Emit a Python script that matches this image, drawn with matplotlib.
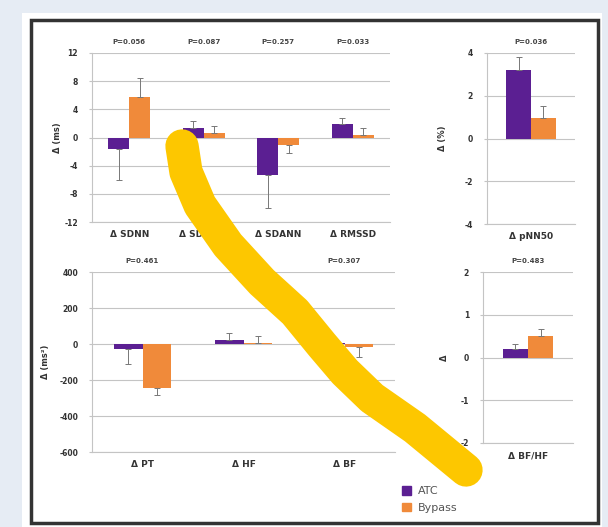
import matplotlib
matplotlib.use("Agg")
import matplotlib.pyplot as plt
from matplotlib.patches import Rectangle
from matplotlib.lines import Line2D
import numpy as np

plt.rcParams["axes.unicode_minus"] = False

# time domain (ms)
td_labels = ["Δ SDNN", "Δ SDNNIS", "Δ SDANN", "Δ RMSSD"]
td_p = ["P=0.056", "P=0.087", "P=0.257", "P=0.033"]
td_atc = [-1.6, 1.4, -5.3, 1.9]
td_atc_err = [4.5, 1.0, 4.7, 0.8]
td_byp = [5.7, 0.6, -1.0, 0.3]
td_byp_err = [2.7, 1.1, 1.2, 1.0]

# pNN50 (%)
pn_labels = ["Δ pNN50"]
pn_p = ["P=0.036"]
pn_atc = [3.2]
pn_atc_err = [0.6]
pn_byp = [0.95]
pn_byp_err = [0.55]

# frequency domain (ms2)
fd_labels = ["Δ PT", "Δ HF", "Δ BF"]
fd_p = ["P=0.461", "P=0.284", "P=0.307"]
fd_atc = [-28, 22, 5]
fd_atc_err = [82, 40, 30]
fd_byp = [-245, 3, -15]
fd_byp_err = [38, 40, 55]

# ratio
rt_labels = ["Δ BF/HF"]
rt_p = ["P=0.483"]
rt_atc = [0.21]
rt_atc_err = [0.11]
rt_byp = [0.5]
rt_byp_err = [0.17]

# scribble over the figure (pixel coords, y from top)
scrib_x = [182, 186, 200, 228, 262, 295, 322, 345, 372, 415, 466]
scrib_y = [146, 172, 205, 245, 282, 312, 345, 372, 398, 428, 470]

ATC = "#5b1f92"
BYP = "#f08a3a"
W, H = 608, 527

fig = plt.figure(figsize=(W / 100, H / 100), dpi=100)
fig.patch.set_facecolor("#e6ecf4")
fig.patches.append(Rectangle((22 / W, 0), 580 / W, 1 - 13 / H, transform=fig.transFigure,
                             facecolor="white", edgecolor="none", zorder=-5))
fig.patches.append(Rectangle((31 / W, 4 / H), 567 / W, 1 - 24 / H, transform=fig.transFigure,
                             facecolor="none", edgecolor="#333333", lw=2.5, zorder=-4))


def panel(rect, labels, pvals, atc, atc_err, byp, byp_err, ylim, step, ylabel, ylab_x):
    ax = fig.add_axes(rect)
    n = len(labels)
    x = np.arange(n)
    w = 0.28
    atc_e = [[e if v < 0 else 0 for v, e in zip(atc, atc_err)],
             [e if v >= 0 else 0 for v, e in zip(atc, atc_err)]]
    byp_e = [[e if v < 0 else 0 for v, e in zip(byp, byp_err)],
             [e if v >= 0 else 0 for v, e in zip(byp, byp_err)]]
    ax.bar(x - w / 2, atc, w, color=ATC, zorder=3,
           yerr=atc_e, ecolor="#777777", capsize=2, error_kw=dict(lw=0.7, capthick=0.7))
    ax.bar(x + w / 2, byp, w, color=BYP, zorder=3,
           yerr=byp_e, ecolor="#777777", capsize=2, error_kw=dict(lw=0.7, capthick=0.7))
    ax.set_xlim(-0.5, n - 0.5)
    ax.set_ylim(*ylim)
    ax.set_yticks(np.arange(ylim[0], ylim[1] + step / 2, step))
    ax.yaxis.grid(True, color="#c4c4c4", lw=0.8, zorder=0)
    ax.set_axisbelow(True)
    for s in ["top", "right"]:
        ax.spines[s].set_visible(False)
    for s in ["left", "bottom"]:
        ax.spines[s].set_color("#c4c4c4")
        ax.spines[s].set_linewidth(0.8)
    ax.set_xticks(x)
    ax.set_xticklabels(labels, fontsize=6.5, fontweight="bold", color="#333333")
    ax.tick_params(axis="x", length=0, pad=6)
    ax.tick_params(axis="y", length=2, color="#c4c4c4", labelsize=5.5, labelcolor="#333333", pad=8)
    for lab in ax.get_yticklabels():
        lab.set_fontweight("bold")
    for i, p in enumerate(pvals):
        ax.text(i, 1.045, p, transform=ax.get_xaxis_transform(), ha="center", va="bottom",
                fontsize=5, color="#444444", fontweight="bold")
    ax.set_ylabel(ylabel, fontsize=6, fontweight="bold", color="#333333")
    ax.yaxis.set_label_coords(ylab_x, 0.5)
    ax.patch.set_alpha(0)
    return ax


panel([92 / W, 1 - 222 / H, 298 / W, 169 / H], td_labels, td_p, td_atc, td_atc_err,
      td_byp, td_byp_err, (-12, 12), 4, "Δ (ms)", -0.1)
panel([487 / W, 1 - 224 / H, 88 / W, 171 / H], pn_labels, pn_p, pn_atc, pn_atc_err,
      pn_byp, pn_byp_err, (-4, 4), 2, "Δ (%)", -0.45)
panel([92 / W, 1 - 452 / H, 303 / W, 180 / H], fd_labels, fd_p, fd_atc, fd_atc_err,
      fd_byp, fd_byp_err, (-600, 400), 200, "Δ (ms²)", -0.14)
panel([483 / W, 1 - 443 / H, 90 / W, 171 / H], rt_labels, rt_p, rt_atc, rt_atc_err,
      rt_byp, rt_byp_err, (-2, 2), 1, "Δ", -0.38)

# legend
handles = [Rectangle((0, 0), 1, 1, color=ATC), Rectangle((0, 0), 1, 1, color=BYP)]
fig.legend(handles, ["ATC", "Bypass"], loc="upper left", bbox_to_anchor=(392 / W, 1 - 476 / H),
           frameon=False, fontsize=8, labelcolor="#555555", handlelength=0.8, handleheight=0.8,
           handletextpad=0.6, labelspacing=0.6)

# yellow scribble
fig.add_artist(Line2D(np.array(scrib_x) / W, 1 - np.array(scrib_y) / H, transform=fig.transFigure,
                      color="#fdc700", lw=24, solid_capstyle="round", solid_joinstyle="round",
                      zorder=10))

fig.savefig("out.png", dpi=100, facecolor=fig.get_facecolor())
